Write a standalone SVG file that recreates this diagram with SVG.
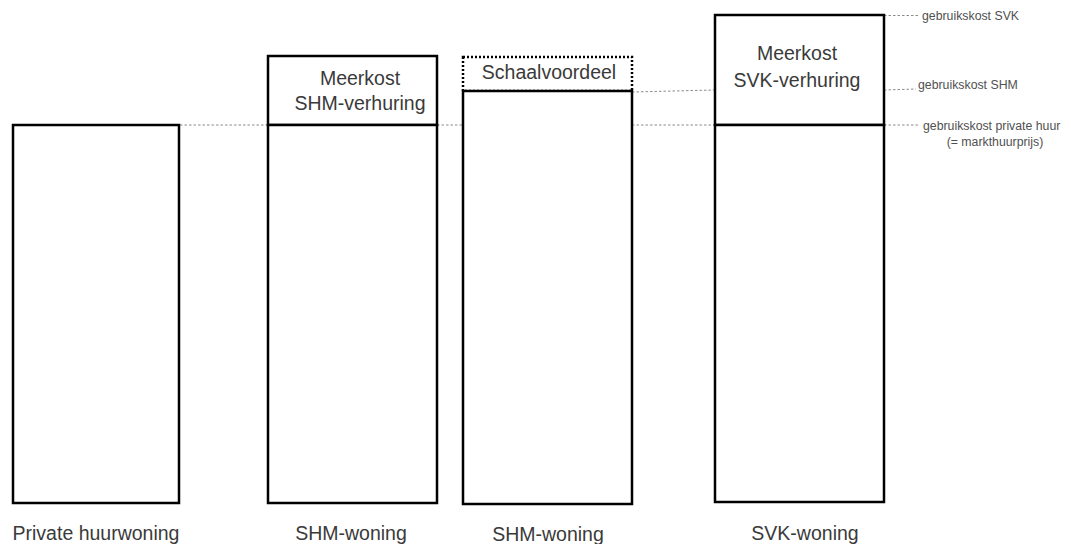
<svg xmlns="http://www.w3.org/2000/svg" width="1071" height="544" viewBox="0 0 1071 544">
<style>
.box{fill:#fff;stroke:#000;stroke-width:2.5}
.dot{fill:none;stroke:#000;stroke-width:2.5;stroke-dasharray:2 2}
.guide{fill:none;stroke:#8c8c8c;stroke-width:1;stroke-dasharray:2.5 2}
.t{font-family:"Liberation Sans",Arial,sans-serif;font-size:19.5px;fill:#3a3a3a;text-anchor:middle}
.s{font-family:"Liberation Sans",Arial,sans-serif;font-size:12.3px;fill:#505050}
</style>
<rect width="1071" height="544" fill="#fff"/>
<g id="connectors">
<line class="guide" x1="180" y1="125" x2="268" y2="125"/>
<line class="guide" x1="437" y1="125" x2="463" y2="125"/>
<line class="guide" x1="632" y1="125" x2="715" y2="125"/>
<line class="guide" x1="632" y1="92" x2="715" y2="90"/>
<line class="guide" x1="884" y1="125" x2="920" y2="125"/>
<line class="guide" x1="884" y1="90" x2="916" y2="89"/>
<line class="guide" x1="884" y1="15.5" x2="920" y2="15.5"/>
</g>
<g id="private">
<rect class="box" x="13" y="125" width="166" height="378"/>
<text class="t" x="96" y="540">Private huurwoning</text>
</g>
<g id="shm1">
<rect class="box" x="268" y="56" width="169" height="69"/>
<rect class="box" x="268" y="125" width="169" height="378"/>
<text class="t" x="360" y="85">Meerkost</text>
<text class="t" x="360" y="110">SHM-verhuring</text>
<text class="t" x="351" y="540">SHM-woning</text>
</g>
<g id="shm2">
<rect class="dot" x="463" y="57" width="169" height="34"/>
<rect class="box" x="463" y="91" width="169" height="413"/>
<text class="t" x="549" y="79">Schaalvoordeel</text>
<text class="t" x="548" y="541">SHM-woning</text>
</g>
<g id="svk">
<rect class="box" x="715" y="15" width="169" height="110"/>
<rect class="box" x="715" y="125" width="169" height="377"/>
<text class="t" x="797" y="60">Meerkost</text>
<text class="t" x="797" y="87">SVK-verhuring</text>
<text class="t" x="805" y="540">SVK-woning</text>
</g>
<g id="labels">
<text class="s" x="922" y="20">gebruikskost SVK</text>
<text class="s" x="918" y="89">gebruikskost SHM</text>
<text class="s" x="923" y="130">gebruikskost private huur</text>
<text class="s" x="995" y="146" text-anchor="middle">(= markthuurprijs)</text>
</g>
</svg>
